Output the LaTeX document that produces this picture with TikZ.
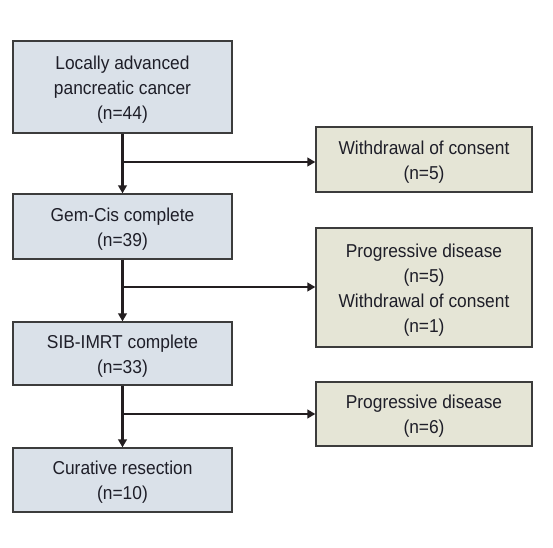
\documentclass[tikz,border=0pt]{standalone}
\usepackage{fontspec}
\setmainfont{Liberation Sans}[FakeStretch=0.93]
\usetikzlibrary{arrows.meta}
\definecolor{leftfill}{RGB}{218,225,233}
\definecolor{rightfill}{RGB}{229,229,214}
\definecolor{edgecol}{RGB}{60,60,60}
\definecolor{txtcol}{RGB}{30,30,40}
\definecolor{linecol}{RGB}{35,30,32}
\newcommand\topstrut{\rule{0pt}{13.8pt}}
\begin{document}
\begin{tikzpicture}[x=0.75pt,y=-0.75pt,
  box/.style={draw=edgecol,line width=1pt,rectangle,inner sep=0pt,align=center,
    text=txtcol,font=\fontsize{14}{18.75}\selectfont},
  lbox/.style={box,fill=leftfill,minimum width=164.25pt},
  rbox/.style={box,fill=rightfill,minimum width=162pt},
  arr/.style={draw=linecol,line width=2.2pt,-{Triangle[length=6pt,width=6.5pt]}}]
\useasboundingbox[fill=white] (0,0) rectangle (553,548);
\node[lbox,minimum height=69pt] (L1) at (122.5,87) {\topstrut Locally advanced\\pancreatic cancer\\(n=44)};
\node[lbox,minimum height=48.75pt] (L2) at (122.5,226.5) {\topstrut Gem-Cis complete\\(n=39)};
\node[lbox,minimum height=47.25pt] (L3) at (122.5,353.5) {\topstrut SIB-IMRT complete\\(n=33)};
\node[lbox,minimum height=48pt] (L4) at (122.5,480) {\topstrut Curative resection\\(n=10)};
\node[rbox,minimum height=48.75pt] (R1) at (424,159.5) {\topstrut Withdrawal of consent\\(n=5)};
\node[rbox,minimum height=89.25pt] (R2) at (424,287.5) {\topstrut Progressive disease\\(n=5)\\Withdrawal of consent\\(n=1)};
\node[rbox,minimum height=48pt] (R3) at (424,414) {\topstrut Progressive disease\\(n=6)};
\coordinate (b1) at (122.5,162);
\coordinate (b2) at (122.5,287);
\coordinate (b3) at (122.5,414);
\draw[arr] (L1) -- (L2);
\draw[arr] (L2) -- (L3);
\draw[arr] (L3) -- (L4);
\draw[arr] (b1) -- (b1 -| R1.west);
\draw[arr] (b2) -- (b2 -| R2.west);
\draw[arr] (b3) -- (b3 -| R3.west);
\end{tikzpicture}
\end{document}
